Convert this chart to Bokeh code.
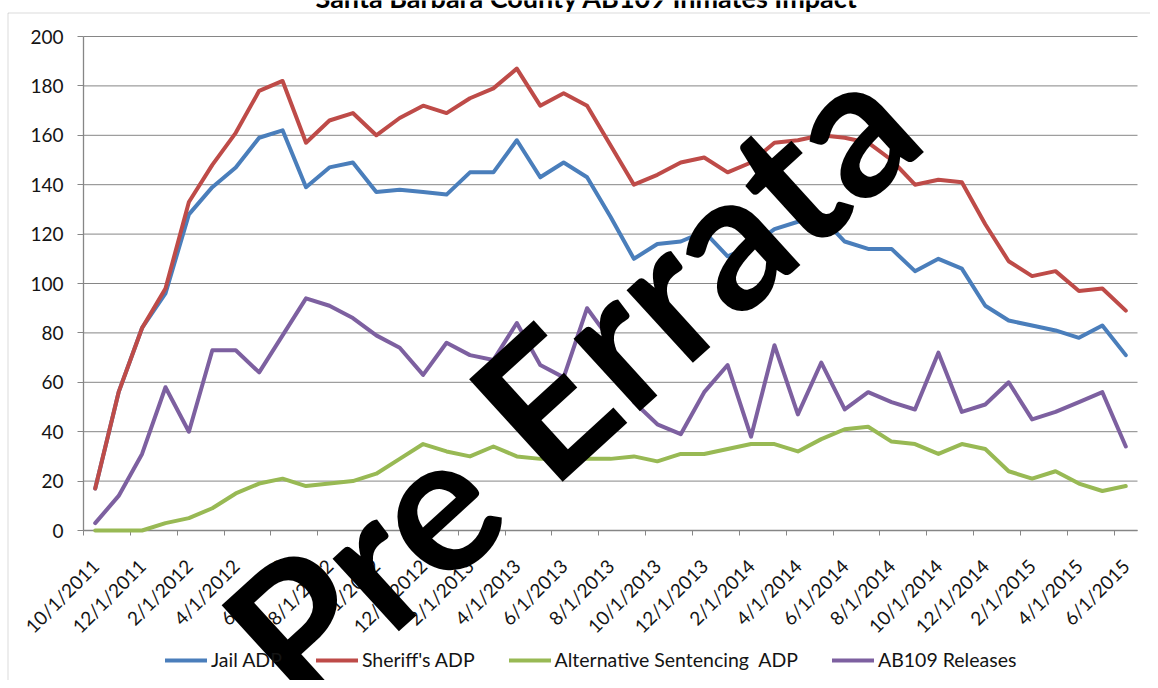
import math
from bokeh.plotting import figure
from bokeh.models import (FixedTicker, Legend, LegendItem, Label, BoxAnnotation, Range1d,
                          LinearAxis)
from bokeh.embed import file_html
from bokeh.resources import INLINE

# ---------------- data ----------------
months = [
    "10/1/2011", "11/1/2011", "12/1/2011",
    "1/1/2012", "2/1/2012", "3/1/2012", "4/1/2012", "5/1/2012", "6/1/2012",
    "7/1/2012", "8/1/2012", "9/1/2012", "10/1/2012", "11/1/2012", "12/1/2012",
    "1/1/2013", "2/1/2013", "3/1/2013", "4/1/2013", "5/1/2013", "6/1/2013",
    "7/1/2013", "8/1/2013", "9/1/2013", "10/1/2013", "11/1/2013", "12/1/2013",
    "1/1/2014", "2/1/2014", "3/1/2014", "4/1/2014", "5/1/2014", "6/1/2014",
    "7/1/2014", "8/1/2014", "9/1/2014", "10/1/2014", "11/1/2014", "12/1/2014",
    "1/1/2015", "2/1/2015", "3/1/2015", "4/1/2015", "5/1/2015", "6/1/2015",
]
jail_adp = [17, 56, 82, 96, 128, 139, 147, 159, 162, 139, 147, 149, 137, 138, 137,
            136, 145, 145, 158, 143, 149, 143, 127, 110, 116, 117, 121, 111, 115, 122,
            125, 127, 117, 114, 114, 105, 110, 106, 91, 85, 83, 81, 78, 83, 71]
sheriff_adp = [17, 56, 82, 98, 133, 148, 161, 178, 182, 157, 166, 169, 160, 167, 172,
               169, 175, 179, 187, 172, 177, 172, 156, 140, 144, 149, 151, 145, 149, 157,
               158, 160, 159, 157, 150, 140, 142, 141, 124, 109, 103, 105, 97, 98, 89]
alt_sentencing_adp = [0, 0, 0, 3, 5, 9, 15, 19, 21, 18, 19, 20, 23, 29, 35,
                      32, 30, 34, 30, 29, 29, 29, 29, 30, 28, 31, 31, 33, 35, 35,
                      32, 37, 41, 42, 36, 35, 31, 35, 33, 24, 21, 24, 19, 16, 18]
ab109_releases = [3, 14, 31, 58, 40, 73, 73, 64, 79, 94, 91, 86, 79, 74, 63,
                  76, 71, 69, 84, 67, 62, 90, 77, 52, 43, 39, 56, 67, 38, 75,
                  47, 68, 49, 56, 52, 49, 72, 48, 51, 60, 45, 48, 52, 56, 34]
series_names = ["Jail ADP", "Sheriff's ADP", "Alternative Sentencing  ADP", "AB109 Releases"]
series_colors = ["#4A7EBB", "#BE4B48", "#98B954", "#7D60A0"]
y_ticks = [0, 20, 40, 60, 80, 100, 120, 140, 160, 180, 200]
title_text = "Santa Barbara County AB109 Inmates Impact"
watermark_text = "Pre Errata"

x = list(range(len(months)))
label_idx = x[::2]
x_tick_labels = [months[i] for i in label_idx]

# ---------------- layout (pixels) ----------------
W, H = 1150, 680
PL, PR, PT, PB = 83, 1137, 36, 530          # plot-area box
n = len(months)
slot = (PR - PL) / n                          # px per month
ymin, ymax = 0, 200
ppu = (PB - PT) / (ymax - ymin)               # px per y unit

x0 = -0.5 - PL / slot
x1 = n - 0.5 + (W - PR) / slot
y0 = ymin - (H - PB) / ppu
y1 = ymax + PT / ppu

def px_x(px):
    return x0 + px / slot

def px_y(py):
    return y1 - py / ppu

p = figure(width=W, height=H, title=None,
           x_range=Range1d(x0, x1), y_range=Range1d(y0, y1),
           x_axis_type=None, y_axis_type=None,
           output_backend="svg", toolbar_location=None,
           min_border=0, min_border_left=0, min_border_right=0,
           min_border_top=0, min_border_bottom=0)
p.outline_line_color = None
p.background_fill_color = "white"
p.border_fill_color = "white"
p.xgrid.visible = False
p.ygrid.visible = False

grid_gray = "#868686"
FONT = "Lato"
TXT = "#141414"

# gridlines (horizontal, across the plot area only)
p.segment(x0=[-0.5] * len(y_ticks), x1=[n - 0.5] * len(y_ticks), y0=y_ticks, y1=y_ticks,
          line_color=grid_gray, line_width=1)

# chart outer border (left and top edge of the chart box)
p.add_layout(BoxAnnotation(left=px_x(7.5), right=x1 + 5, top=px_y(12.5), bottom=y0 - 50,
                           fill_color=None, line_color=grid_gray, line_width=1,
                           level="underlay"))

xa = LinearAxis(fixed_location=ymin, bounds=(-0.5, n - 0.5))
xa.ticker = FixedTicker(ticks=label_idx, minor_ticks=[i - 0.5 for i in label_idx])
xa.major_label_overrides = {i: lab for i, lab in zip(label_idx, x_tick_labels)}
xa.major_tick_line_color = None
xa.major_tick_out = 0
xa.major_tick_in = 0
xa.minor_tick_line_color = grid_gray
xa.minor_tick_out = 5
xa.minor_tick_in = 0
xa.axis_line_color = grid_gray
xa.axis_line_width = 1.3
xa.major_label_orientation = math.pi / 4
xa.major_label_standoff = 27
xa.major_label_text_font = FONT
xa.major_label_text_font_size = "19px"
xa.major_label_text_color = TXT
xa.level = "underlay"
p.add_layout(xa, "below")

ya = LinearAxis(fixed_location=-0.5, bounds=(ymin, ymax))
ya.ticker = FixedTicker(ticks=y_ticks)
ya.major_tick_out = 6
ya.major_tick_in = 0
ya.major_tick_line_color = grid_gray
ya.minor_tick_line_color = None
ya.axis_line_color = grid_gray
ya.axis_line_width = 1.3
ya.major_label_standoff = 14
ya.major_label_text_font = FONT
ya.major_label_text_font_size = "19px"
ya.major_label_text_color = TXT
ya.level = "underlay"
p.add_layout(ya, "left")

renderers = []
for ys, c in zip([jail_adp, sheriff_adp, alt_sentencing_adp, ab109_releases], series_colors):
    r = p.line(x, ys, line_color=c, line_width=4, line_join="round", line_cap="round")
    renderers.append(r)

legend = Legend(items=[LegendItem(label=nm, renderers=[r]) for nm, r in zip(series_names, renderers)],
                orientation="horizontal", location=(165, 9),
                glyph_width=42, glyph_height=20, label_standoff=4, spacing=34,
                padding=0, margin=0, border_line_color=None, background_fill_alpha=0,
                label_text_font=FONT, label_text_font_size="19.5px", label_text_color=TXT)
p.add_layout(legend)

title = Label(x=px_x(586.5), y=px_y(-3), text=title_text, text_align="center",
              text_baseline="alphabetic", text_font=FONT, text_font_style="bold",
              text_font_size="27px", text_color="#000000")
p.add_layout(title)

wm = Label(x=px_x(567), y=px_y(376), text=watermark_text, angle=0.74, text_align="center",
           text_baseline="alphabetic", text_font=FONT, text_font_style="bold",
           text_font_size="192px", text_color="#000000", level="overlay")
p.add_layout(wm)

open("out.html", "w").write(file_html(p, INLINE))
